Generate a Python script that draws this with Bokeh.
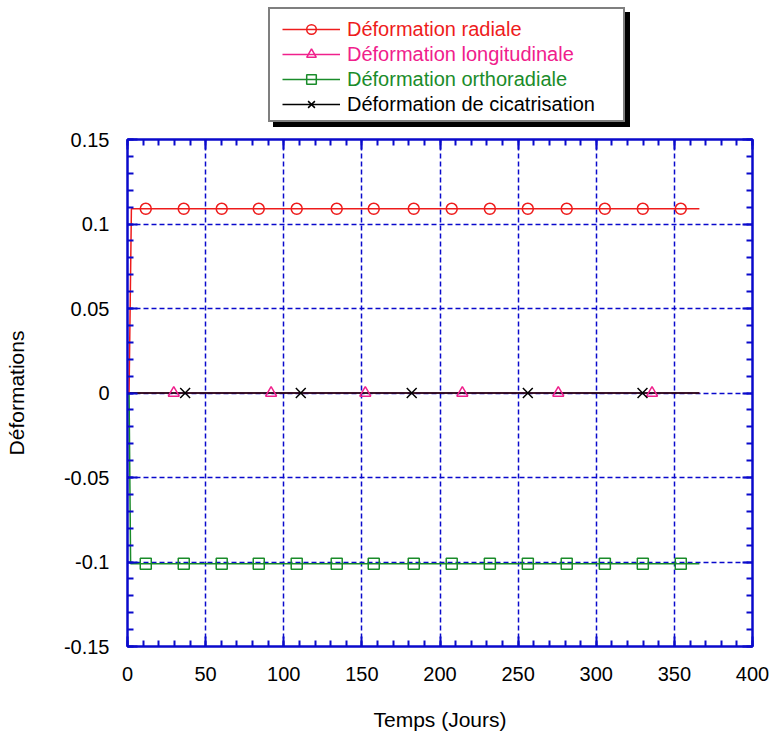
import numpy as np
from bokeh.plotting import figure
from bokeh.layouts import column
from bokeh.models import Range1d, LinearAxis, FixedTicker, Legend, LegendItem
from bokeh.embed import file_html
from bokeh.resources import INLINE

# ---- data ----
t_radial = [1.0, 2.5, 366.0]
v_radial = [0.0, 0.109, 0.109]
t_long = [0.0, 366.0]
v_long = [0.0, 0.0]
t_ortho = [1.0, 2.0, 366.0]
v_ortho = [0.0, -0.101, -0.101]
t_cic = [0.0, 366.0]
v_cic = [0.0, 0.0]

mk_radial_t = [11.7, 36.0, 60.3, 84.0, 108.3, 133.9, 157.6, 183.2, 207.5, 231.9, 256.2, 281.1, 305.5, 329.8, 354.1]
mk_radial_v = [0.109, 0.109, 0.109, 0.109, 0.109, 0.109, 0.109, 0.109, 0.109, 0.109, 0.109, 0.109, 0.109, 0.109, 0.109]
mk_long_t = [29.6, 91.9, 152.2, 214.3, 275.7, 335.7]
mk_long_v = [0.0, 0.0, 0.0, 0.0, 0.0, 0.0]
mk_ortho_t = [11.7, 36.0, 60.3, 84.0, 108.3, 133.9, 157.6, 183.2, 207.5, 231.9, 256.2, 281.1, 305.5, 329.8, 354.1]
mk_ortho_v = [-0.101, -0.101, -0.101, -0.101, -0.101, -0.101, -0.101, -0.101, -0.101, -0.101, -0.101, -0.101, -0.101, -0.101, -0.101]
mk_cic_t = [36.9, 110.9, 181.9, 256.2, 329.6]
mk_cic_v = [0.0, 0.0, 0.0, 0.0, 0.0]

x_ticks = [0, 50, 100, 150, 200, 250, 300, 350, 400]
x_tick_labels = ["0", "50", "100", "150", "200", "250", "300", "350", "400"]
y_ticks = [-0.15, -0.1, -0.05, 0.0, 0.05, 0.1, 0.15]
y_tick_labels = ["-0.15", "-0.1", "-0.05", "0", "0.05", "0.1", "0.15"]

labels = ["Déformation radiale", "Déformation longitudinale",
          "Déformation orthoradiale", "Déformation de cicatrisation"]
colors = ["#EE1C1C", "#F0208C", "#1A8C2A", "#000000"]
markers = ["circle", "triangle", "square", "x"]
marker_sizes = [11, 11, 11, 14]

BLUE = "#0A0ACC"
FONT = "Liberation Sans"

line_t = [t_radial, t_long, t_ortho, t_cic]
line_v = [v_radial, v_long, v_ortho, v_cic]
mk_t = [mk_radial_t, mk_long_t, mk_ortho_t, mk_cic_t]
mk_v = [mk_radial_v, mk_long_v, mk_ortho_v, mk_cic_v]

# ================= main plot =================
STRIP_H = 127
p = figure(width=769, height=734 - STRIP_H, x_range=Range1d(0, 400), y_range=Range1d(-0.15, 0.15),
           output_backend="svg", toolbar_location=None,
           min_border_left=127, min_border_right=17, min_border_top=12, min_border_bottom=88)
p.outline_line_color = BLUE
p.outline_line_width = 2
p.background_fill_color = "white"
p.border_fill_color = "white"

x_minor = list(np.arange(0, 401, 10))
y_minor = list(np.round(np.arange(-0.15, 0.1501, 0.01), 4))
xt = FixedTicker(ticks=x_ticks, minor_ticks=x_minor)
yt = FixedTicker(ticks=y_ticks, minor_ticks=y_minor)

def style_axis(ax, ticker, overrides, show_labels):
    ax.ticker = ticker
    ax.axis_line_color = BLUE
    ax.axis_line_width = 2
    ax.major_tick_line_color = BLUE
    ax.minor_tick_line_color = BLUE
    ax.major_tick_line_width = 2
    ax.minor_tick_line_width = 2
    ax.major_tick_in = 10
    ax.major_tick_out = 0
    ax.minor_tick_in = 6
    ax.minor_tick_out = 0
    ax.major_label_text_font = FONT
    ax.major_label_text_color = "black"
    if show_labels:
        ax.major_label_text_font_size = "20px"
        ax.major_label_overrides = overrides
    else:
        ax.major_label_text_font_size = "1px"
        ax.major_label_overrides = {k: "" for k in overrides}
        ax.major_label_standoff = 0

xo = {v: s for v, s in zip(x_ticks, x_tick_labels)}
yo = {v: s for v, s in zip(y_ticks, y_tick_labels)}

style_axis(p.xaxis[0], xt, xo, True)
style_axis(p.yaxis[0], yt, yo, True)
p.xaxis[0].major_label_standoff = 20
p.yaxis[0].major_label_standoff = 18
p.xaxis[0].axis_label = "Temps (Jours)"
p.yaxis[0].axis_label = "Déformations"
for ax in (p.xaxis[0], p.yaxis[0]):
    ax.axis_label_text_font = FONT
    ax.axis_label_text_font_size = "21px"
    ax.axis_label_text_font_style = "normal"
    ax.axis_label_text_color = "black"
p.xaxis[0].axis_label_standoff = 24
p.yaxis[0].axis_label_standoff = 33

top_ax = LinearAxis()
right_ax = LinearAxis()
style_axis(top_ax, xt, xo, False)
style_axis(right_ax, yt, yo, False)
p.add_layout(top_ax, "above")
p.add_layout(right_ax, "right")

for g in (p.xgrid[0], p.ygrid[0]):
    g.grid_line_color = BLUE
    g.grid_line_dash = "5 3"
    g.grid_line_width = 1.5
p.xgrid[0].ticker = xt
p.ygrid[0].ticker = yt

for i in [1, 3, 0, 2]:
    p.line(line_t[i], line_v[i], line_color=colors[i], line_width=1.5)
for i in range(4):
    p.scatter(mk_t[i], mk_v[i], marker=markers[i], size=marker_sizes[i], fill_color=None,
              line_color=colors[i], line_width=1.5)

# ================= legend strip (own figure above the plot) =================
# its ranges lie far from the data, so the proxy renderers only show in the legend
q = figure(width=769, height=STRIP_H, x_range=Range1d(1000, 1001), y_range=Range1d(1000, 1001),
           output_backend="svg", toolbar_location=None,
           x_axis_location=None, y_axis_location=None,
           min_border_left=0, min_border_right=0, min_border_top=0, min_border_bottom=0)
q.outline_line_color = None
q.background_fill_color = "white"
q.border_fill_color = "white"
q.grid.visible = False

r_dummy = q.scatter([], [], marker="circle", size=1, fill_alpha=0, line_alpha=0)

# box + drop shadow: one invisible item sized to the legend box
def box_legend(loc, fill):
    lg = Legend(items=[LegendItem(label=" ", renderers=[r_dummy])], location=loc)
    lg.label_text_font = FONT
    lg.label_text_font_size = "20px"
    lg.glyph_width = 58
    lg.glyph_height = 99
    lg.label_height = 24
    lg.label_width = 276
    lg.label_standoff = 7
    lg.padding = 6
    lg.margin = 0
    lg.border_line_color = "black"
    lg.border_line_width = 2
    lg.background_fill_color = fill
    lg.background_fill_alpha = 1.0
    return lg

# (the strip's frame is aligned with the plot frame, which starts 127 px from the left)
q.add_layout(box_legend((146, 0), "black"), "center")
q.add_layout(box_legend((141, 5), "white"), "center")

# one transparent single-item legend per row, so each label keeps its own colour
row_bottom = [80, 55, 30, 5]
for i in range(4):
    rl = q.line(line_t[i], line_v[i], line_color=colors[i], line_width=1.5)
    rm = q.scatter(mk_t[i], mk_v[i], marker=markers[i], size=marker_sizes[i], fill_color=None,
                   line_color=colors[i], line_width=1.5)
    lg = Legend(items=[LegendItem(label=labels[i], renderers=[rl, rm])],
                location=(149, row_bottom[i]))
    lg.label_text_font = FONT
    lg.label_text_font_size = "20px"
    lg.label_text_color = colors[i]
    lg.glyph_width = 58
    lg.glyph_height = 24
    lg.label_height = 24
    lg.label_standoff = 7
    lg.padding = 6
    lg.margin = 0
    lg.border_line_alpha = 0
    lg.background_fill_alpha = 0
    q.add_layout(lg, "center")

layout = column(q, p, spacing=0)

html = file_html(layout, INLINE)
with open("out.html", "w") as f:
    f.write(html)
